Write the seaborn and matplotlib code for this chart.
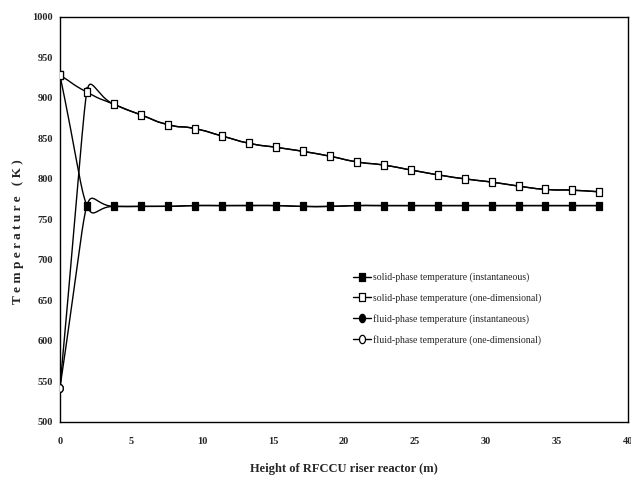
import numpy as np
import pandas as pd
import matplotlib
matplotlib.use("Agg")
import matplotlib.pyplot as plt
from matplotlib.path import Path
import seaborn as sns

# riser height positions (m)
height = [0, 1.9, 3.8, 5.7, 7.6, 9.5, 11.4, 13.3, 15.2, 17.1, 19.0,
          20.9, 22.8, 24.7, 26.6, 28.5, 30.4, 32.3, 34.2, 36.1, 38.0]

solid_inst = [928, 767, 766, 766, 766, 767, 767, 767, 767, 766, 766,
              767, 767, 767, 767, 767, 767, 767, 767, 767, 767]
solid_1d = [928, 907, 892, 879, 867, 862, 853, 844, 839, 834, 828,
            821, 817, 811, 805, 800, 796, 791, 787, 786, 784]
fluid_inst = [542, 767, 766, 766, 766, 767, 767, 767, 767, 766, 766,
              767, 767, 767, 767, 767, 767, 767, 767, 767, 767]
fluid_1d = [542, 908, 892, 879, 867, 862, 853, 844, 839, 834, 828,
            821, 817, 811, 805, 800, 796, 791, 787, 786, 784]

labels = ["solid-phase temperature (instantaneous)",
          "solid-phase temperature (one-dimensional)",
          "fluid-phase temperature (instantaneous)",
          "fluid-phase temperature (one-dimensional)"]

# tall, narrow markers like the original
sq = Path([(-0.7, -1), (0.7, -1), (0.7, 1), (-0.7, 1), (-0.7, -1)],
          [Path.MOVETO, Path.LINETO, Path.LINETO, Path.LINETO, Path.CLOSEPOLY])
th = np.linspace(0, 2 * np.pi, 40)
ov = Path(np.column_stack([0.72 * np.cos(th), np.sin(th)]))
markers = [sq, sq, ov, ov]
faces = ["black", "white", "black", "white"]

SX = 568 / 40.0   # px per metre
SY = 405 / 500.0  # px per K


def smooth(x, y, f=0.65, n=30):
    # smoothed line like a spreadsheet chart, worked out in screen units
    p = np.column_stack([np.asarray(x, float) * SX, np.asarray(y, float) * SY])
    seg = np.linalg.norm(np.diff(p, axis=0), axis=1)
    m = len(p)
    tang = []
    for i in range(m):
        a = p[max(i - 1, 0)]
        b = p[min(i + 1, m - 1)]
        d = b - a
        tang.append(d / np.linalg.norm(d))
    t = np.linspace(0, 1, n)[:, None]
    out = []
    for i in range(m - 1):
        p0, p3 = p[i], p[i + 1]
        l0 = min(seg[i], seg[i - 1]) if i > 0 else seg[i]
        l3 = min(seg[i], seg[i + 1]) if i + 1 < m - 1 else seg[i]
        p1 = p0 + tang[i] * f * l0
        p2 = p3 - tang[i + 1] * f * l3
        b = (1 - t) ** 3 * p0 + 3 * (1 - t) ** 2 * t * p1 + 3 * (1 - t) * t ** 2 * p2 + t ** 3 * p3
        out.append(b)
    out = np.vstack(out)
    return out[:, 0] / SX, out[:, 1] / SY


df = pd.DataFrame({"height": height, labels[0]: solid_inst, labels[1]: solid_1d,
                   labels[2]: fluid_inst, labels[3]: fluid_1d})

sns.set_style("white")
plt.rcParams["font.family"] = ["Liberation Serif", "DejaVu Serif"]

fig = plt.figure(figsize=(6.31, 4.80), dpi=100)
ax = fig.add_axes([0.095, 0.121, 0.900, 0.844])

for lab in labels:
    sx, sy = smooth(df["height"], df[lab])
    ax.plot(sx, sy, color="black", lw=1.0, zorder=2)

# filled markers underneath, open markers on top (squares over circles)
for k in [2, 0, 3, 1]:
    sns.scatterplot(x=df["height"], y=df[labels[k]], marker=markers[k], s=30,
                    color=faces[k], edgecolor="black", linewidth=0.9, ax=ax, zorder=3)

for lab, m, fc in zip(labels, markers, faces):
    ax.plot([], [], color="black", lw=1.0, marker=m, markersize=6,
            markerfacecolor=fc, markeredgecolor="black", markeredgewidth=0.9, label=lab)

ax.set_xlim(0, 40)
ax.set_ylim(500, 1000)
ax.set_xticks(range(0, 41, 5))
ax.set_yticks(range(500, 1001, 50))
ax.tick_params(axis="both", length=0, labelsize=7.5)
ax.tick_params(axis="x", pad=11)
ax.tick_params(axis="y", pad=5)
for t in ax.get_xticklabels() + ax.get_yticklabels():
    t.set_fontweight("bold")
for s in ax.spines.values():
    s.set_color("black")
    s.set_linewidth(1.0)

ax.set_xlabel("Height of RFCCU riser reactor (m)", fontsize=9, fontweight="bold",
              labelpad=12)
ax.set_ylabel("T e m p e r a t u r e   ( K )", fontsize=9.5, fontweight="bold")
ax.yaxis.set_label_coords(-0.063, 0.469)

ax.legend(loc="upper left", bbox_to_anchor=(0.516, 0.368), frameon=False,
          borderaxespad=0, borderpad=0,
          fontsize=7, handlelength=1.9, handletextpad=0.2, labelspacing=1.12)

fig.savefig("out.png", dpi=100)
